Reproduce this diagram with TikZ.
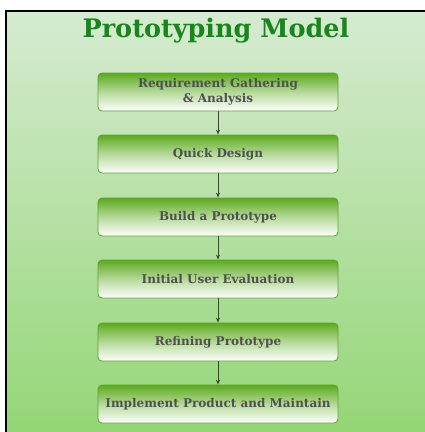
\documentclass[tikz,border=0pt]{standalone}
\usepackage{fontspec}
\setmainfont{DejaVu Serif}
\usetikzlibrary{arrows.meta}
\definecolor{bgtop}{RGB}{214,235,209}
\definecolor{bgbot}{RGB}{148,214,118}
\definecolor{boxgreen}{RGB}{92,170,30}
\definecolor{boxedge}{RGB}{96,160,50}
\definecolor{titlegreen}{RGB}{24,134,28}
\definecolor{boxtext}{RGB}{80,80,80}
\begin{document}
\begin{tikzpicture}[x=1pt, y=-1pt,
		stage/.style={rectangle, rounded corners=4pt, draw=boxedge, line width=0.8pt,
			minimum width=240pt, minimum height=38pt, align=center,
			top color=boxgreen, bottom color=white, middle color=boxgreen!45!white,
			text=boxtext, font=\bfseries\fontsize{12}{15.5}\selectfont, inner sep=2pt},
		flow/.style={draw=black!75, line width=0.9pt, -{Stealth[length=5pt,width=4pt]}}]
		\useasboundingbox (0,0) rectangle (425,432);
		\fill[white] (0,0) rectangle (425,432);
		\shade[top color=bgtop, bottom color=bgbot] (6,11) rectangle (425,432);
		\draw[black, line width=2pt] (6,432) -- (6,11) -- (425,11);
		
		\node[text=titlegreen, font=\bfseries\fontsize{25.5}{28}\selectfont] (title) at (216,31) {Prototyping Model};
		
		\node[stage] (req) at (218,92) {Requirement Gathering\\\& Analysis};
		\node[stage] (quick) at (218,154) {Quick Design};
		\node[stage] (build) at (218,217) {Build a Prototype};
		\node[stage] (eval) at (218,279) {Initial User Evaluation};
		\node[stage] (refine) at (218,342) {Refining Prototype};
		\node[stage] (impl) at (218,404) {Implement Product and Maintain};
		
		\draw[flow] (req) -- (quick);
		\draw[flow] (quick) -- (build);
		\draw[flow] (build) -- (eval);
		\draw[flow] (eval) -- (refine);
		\draw[flow] (refine) -- (impl);
	\end{tikzpicture}
\end{document}
